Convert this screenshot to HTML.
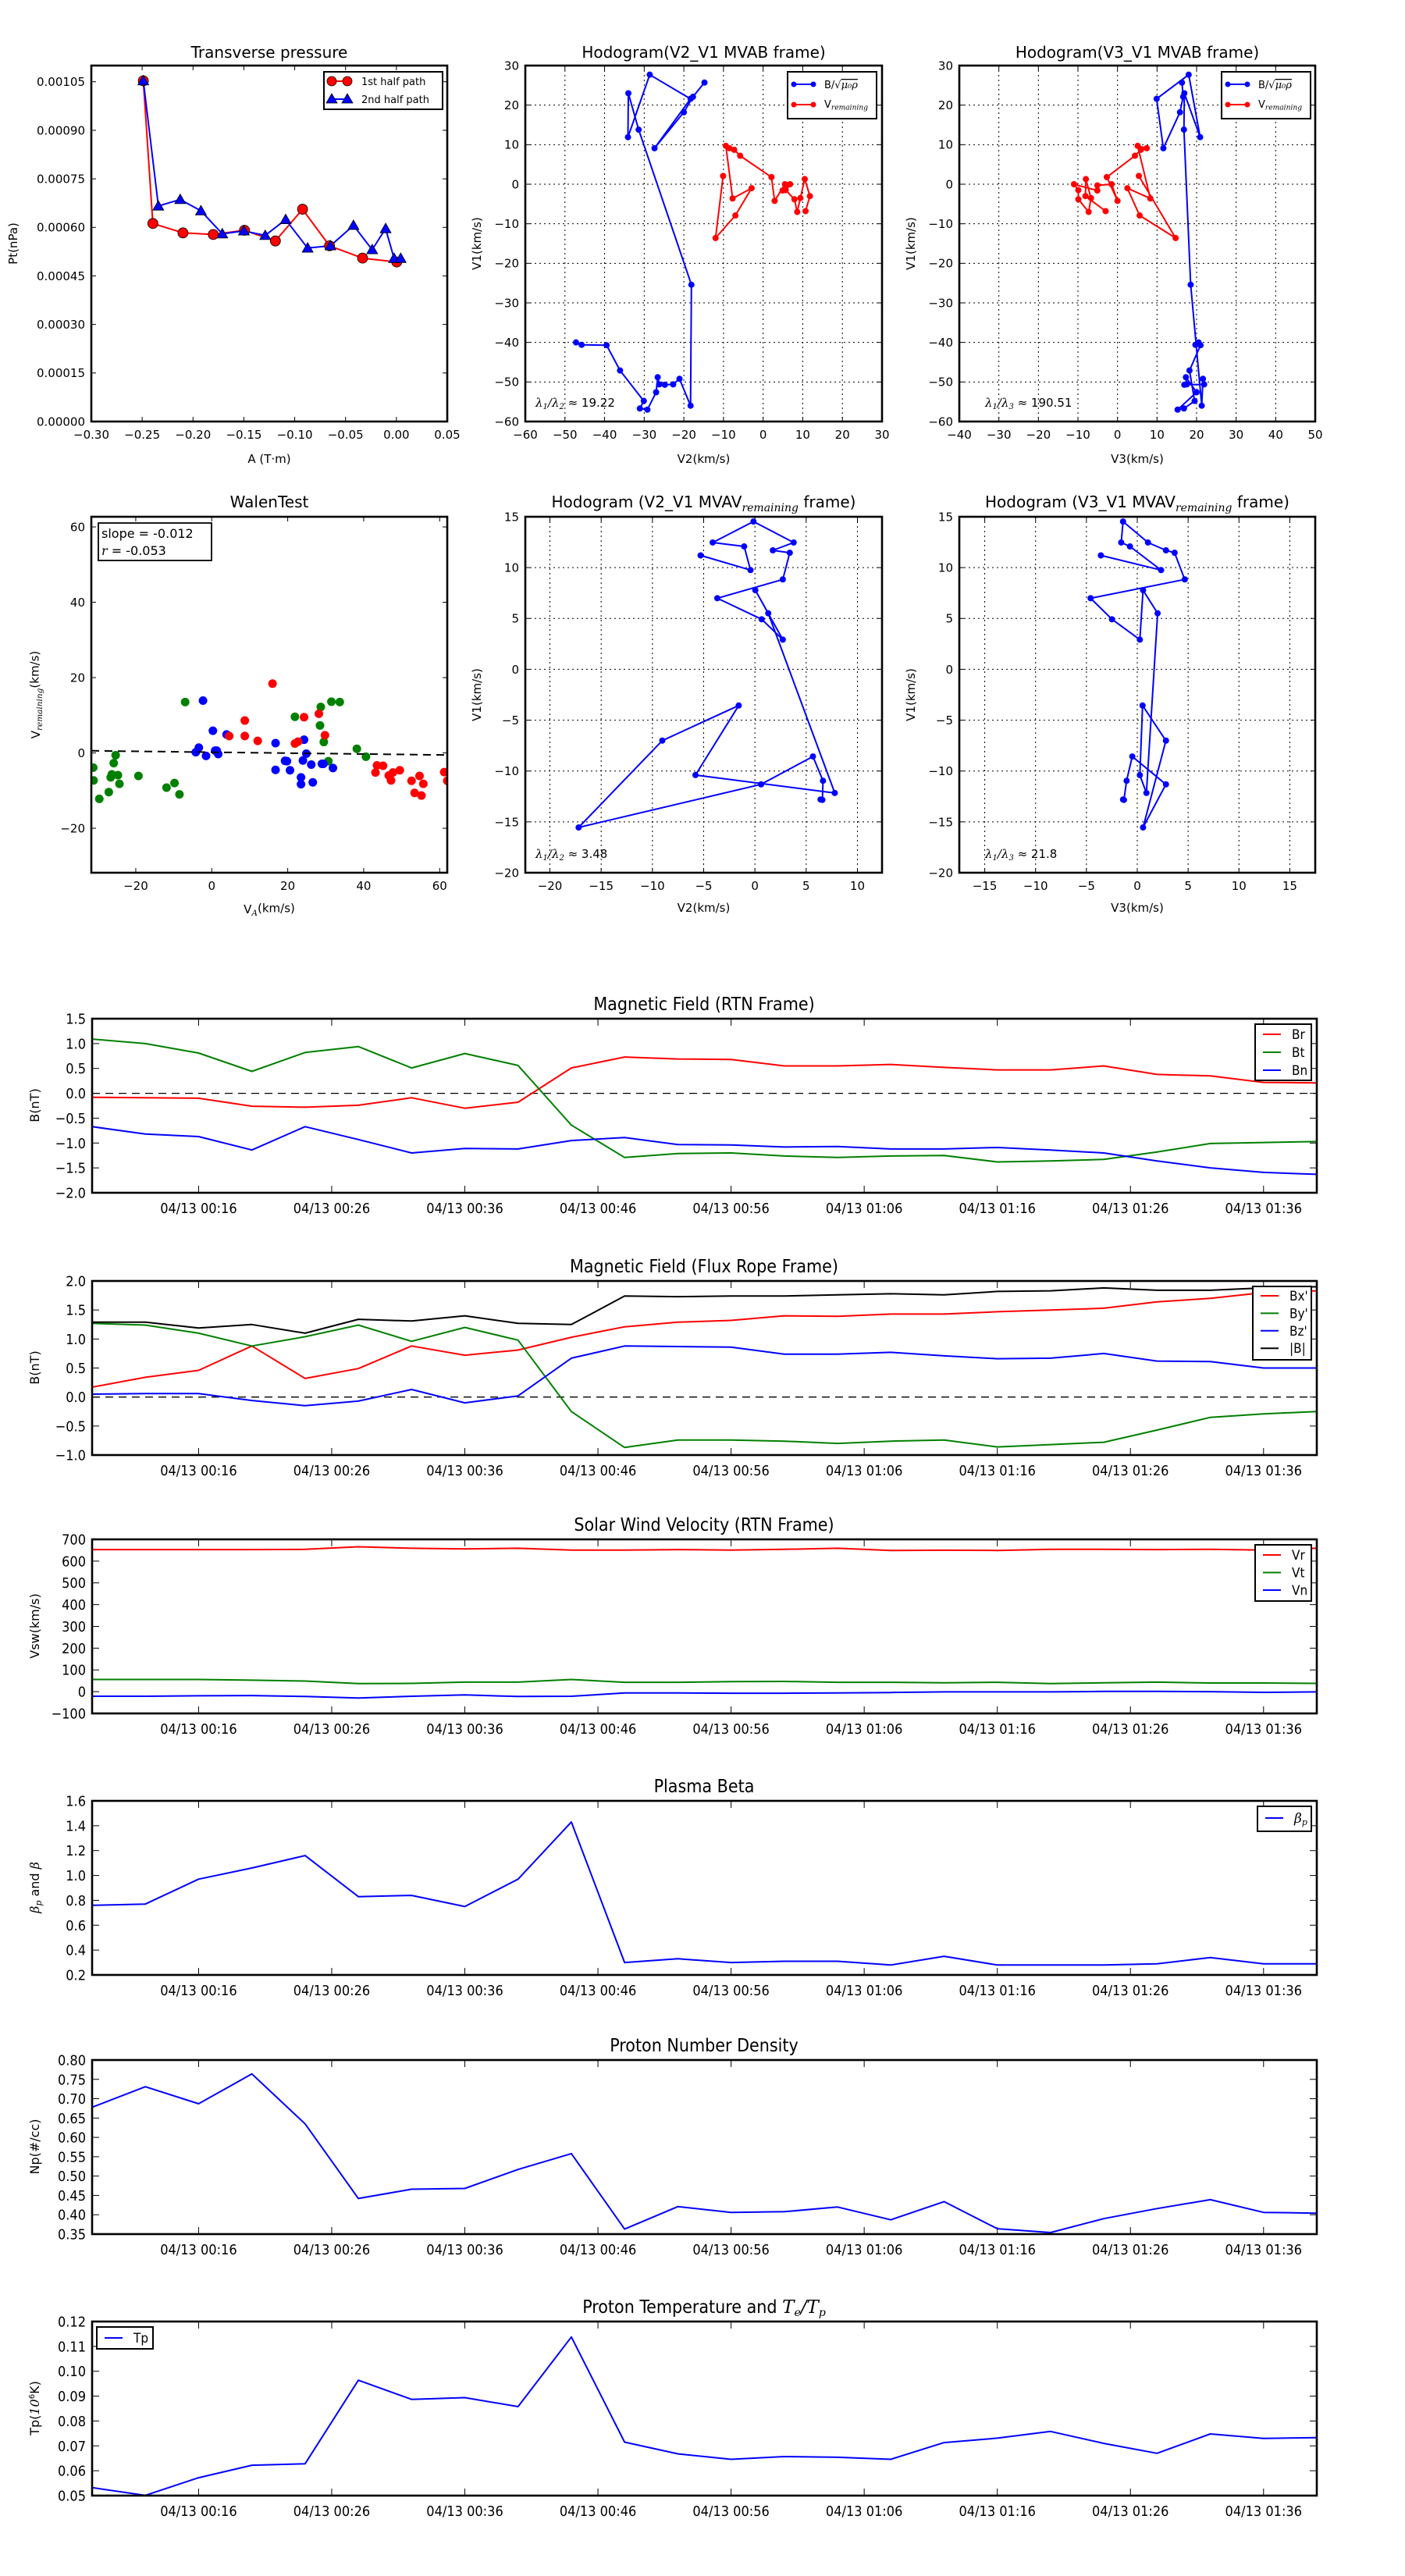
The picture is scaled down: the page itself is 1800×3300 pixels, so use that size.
<!DOCTYPE html>
<html><head><meta charset="utf-8"><title>Flux rope analysis</title>
<style>
html,body{margin:0;padding:0;background:#fff;}
svg{display:block;}
text{font-family:"DejaVu Sans","Liberation Sans",sans-serif;fill:#000;}
.cond{font-family:"DejaVu Sans Condensed","DejaVu Sans","Liberation Sans Narrow","Liberation Sans",sans-serif;}
.math{font-family:"DejaVu Serif","Liberation Serif",serif;font-style:italic;}
</style></head>
<body>
<svg id="fig" xmlns="http://www.w3.org/2000/svg" width="1800" height="3300" viewBox="0 0 1800 3300">
<rect width="1800" height="3300" fill="#fff"/>
</svg>
<script>
// ---------- Panel 1: transverse pressure ----------
const ptA1 = [-0.2489,-0.2395,-0.2099,-0.1801,-0.1494,-0.1190,-0.0923,-0.0658,-0.0333,0.0003];
const ptP1 = [0.001053,0.000612,0.000583,0.000578,0.000591,0.000558,0.000656,0.000543,0.000505,0.000493];
const ptA2 = [-0.2489,-0.2341,-0.2126,-0.1922,-0.1712,-0.1500,-0.1290,-0.1089,-0.0873,-0.0649,-0.0422,-0.0238,-0.0106,-0.0023,0.0042];
const ptP2 = [0.001053,0.000666,0.000686,0.000651,0.000580,0.000589,0.000575,0.000624,0.000536,0.000543,0.000606,0.000531,0.000596,0.000504,0.000504];
const ptXTicks = [-0.30,-0.25,-0.20,-0.15,-0.10,-0.05,0.00,0.05];
const ptXLabels = ["\u22120.30","\u22120.25","\u22120.20","\u22120.15","\u22120.10","\u22120.05","0.00","0.05"];
const ptYTicks = [0,0.00015,0.0003,0.00045,0.0006,0.00075,0.0009,0.00105];
const ptYLabels = ["0.00000","0.00015","0.00030","0.00045","0.00060","0.00075","0.00090","0.00105"];

// ---------- MVAB hodograms (V2, V3, V1) ----------
const mvabBV2 = [-14.8,-17.7,-20.0,-27.4,-18.3,-28.6,-34.1,-34.0,-31.4,-18.1,-18.3,-21.1,-22.7,-24.8,-26.2,-26.6,-27.0,-29.2,-31.1,-30.1,-36.1,-39.5,-45.8,-47.2];
const mvabBV3 = [16.3,16.6,15.8,11.6,9.9,18.0,20.9,16.9,16.8,18.5,21.3,21.6,21.9,16.9,17.5,17.3,20.0,15.2,16.8,19.5,18.2,21.0,19.7,20.5];
const mvabBV1 = [25.7,22.1,18.2,9.1,21.6,27.7,11.9,23.0,13.8,-25.4,-56.0,-49.2,-50.6,-50.7,-50.6,-48.8,-52.6,-57.0,-56.7,-54.8,-47.1,-40.7,-40.6,-40.0];
const mvabVV2 = [10.7,11.8,10.5,9.4,8.6,7.9,5.7,6.8,4.9,6.0,5.5,2.9,2.1,-5.8,-7.3,-8.5,-9.4,-7.7,-2.9,-7.0,-12.0,-10.1];
const mvabVV3 = [-3.0,-8.1,-8.0,-6.7,-7.3,-9.9,-9.9,-11.0,-5.1,-5.1,-1.5,0.0,-2.7,4.4,5.9,7.4,5.1,8.3,2.5,5.6,14.7,5.4];
const mvabVV1 = [-6.8,-3.0,1.3,-3.5,-7.0,-3.8,-1.5,0.0,-1.6,-0.3,0.0,-4.2,1.8,7.2,8.7,9.1,9.7,-3.6,-1.0,-7.9,-13.6,2.1];
const hodoTicks10 = [-60,-50,-40,-30,-20,-10,0,10,20,30,40,50];

// ---------- Walen test ----------
const walGreenX = [-31.2,-31.1,-29.6,-27.1,-26.6,-26.3,-25.8,-25.3,-24.7,-24.3,-19.3,-11.9,-9.8,-8.5,-7.0,21.9,28.5,28.7,29.5,30.7,31.5,33.7,38.2,40.6];
const walGreenY = [-3.9,-7.3,-12.2,-10.4,-6.5,-5.7,-2.7,-0.6,-5.9,-8.2,-6.1,-9.2,-8.0,-11.0,13.5,9.6,7.3,12.2,2.9,-2.2,13.6,13.5,1.1,-1.0];
const walBlueX = [-4.2,-3.4,-2.3,-1.5,0.3,0.9,1.3,1.7,3.9,16.8,16.8,19.3,19.8,20.6,23.5,23.5,24.0,24.3,24.9,26.2,26.6,29.0,29.4,31.9];
const walBlueY = [0.2,1.4,13.9,-0.8,5.9,0.6,0.6,-0.3,4.9,2.6,-4.5,-2.1,-2.2,-4.6,-6.5,-8.3,-2.0,3.5,-0.2,-3.1,-7.8,-2.9,-2.9,-4.0];
const walRedX = [4.6,8.7,8.7,12.1,16.0,21.9,22.7,24.3,28.2,29.8,43.1,43.5,45.1,46.6,47.2,47.7,49.5,52.6,53.4,54.7,55.2,55.7,61.2,62.0];
const walRedY = [4.5,8.6,4.5,3.2,18.4,2.5,3.0,9.5,10.4,4.7,-5.2,-3.3,-3.4,-6.0,-7.3,-5.2,-4.6,-7.4,-10.6,-6.1,-11.3,-8.2,-5.1,-7.4];
const walSlope = -0.012;
const walIntercept = 0.2;
const walTicks = [-20,0,20,40,60];

// ---------- MVAV hodograms ----------
const mvavV2 = [-5.30,-0.43,-1.05,-4.12,-0.14,3.78,1.75,3.40,2.72,-3.67,0.66,2.72,0.04,1.30,7.79,-5.80,-1.58,-9.04,-17.20,0.60,5.66,6.64,6.58,6.40];
const mvavV3 = [-3.58,2.34,-0.72,-1.58,-1.40,1.05,2.82,3.67,4.67,-4.59,-2.49,0.25,0.57,2.00,0.90,0.25,0.52,2.82,0.57,2.82,-0.49,-1.05,-1.31,-1.40];
const mvavV1 = [11.20,9.76,12.08,12.47,14.53,12.47,11.70,11.46,8.84,6.99,4.92,2.92,7.78,5.51,-12.16,-10.40,-3.56,-7.01,-15.55,-11.31,-8.57,-10.96,-12.84,-12.80];
const hodoTicks5 = [-20,-15,-10,-5,0,5,10,15];

// ---------- Time series ----------
const tsMinutes = [8,12,16,20,24,28,32,36,40,44,48,52,56,60,64,68,72,76,80,84,88,92,96,100];
const tsTickMin = [16,26,36,46,56,66,76,86,96];
const tsTickLabels = ["04/13 00:16","04/13 00:26","04/13 00:36","04/13 00:46","04/13 00:56","04/13 01:06","04/13 01:16","04/13 01:26","04/13 01:36"];
const brVals = [-0.08,-0.09,-0.10,-0.26,-0.28,-0.24,-0.09,-0.30,-0.18,0.51,0.73,0.69,0.68,0.55,0.55,0.58,0.52,0.47,0.47,0.55,0.38,0.35,0.22,0.21];
const btVals = [1.09,1.00,0.81,0.44,0.82,0.94,0.51,0.80,0.56,-0.64,-1.29,-1.21,-1.20,-1.26,-1.29,-1.26,-1.25,-1.38,-1.36,-1.33,-1.18,-1.01,-0.99,-0.97];
const bnVals = [-0.67,-0.82,-0.87,-1.14,-0.67,-0.93,-1.20,-1.11,-1.12,-0.95,-0.89,-1.03,-1.04,-1.08,-1.07,-1.12,-1.12,-1.09,-1.14,-1.20,-1.36,-1.50,-1.59,-1.63];
const bxVals = [0.17,0.34,0.46,0.88,0.32,0.49,0.88,0.72,0.81,1.03,1.21,1.29,1.32,1.40,1.39,1.43,1.43,1.47,1.50,1.53,1.64,1.70,1.80,1.83];
const byVals = [1.27,1.24,1.10,0.88,1.04,1.24,0.96,1.20,0.98,-0.25,-0.87,-0.74,-0.74,-0.76,-0.80,-0.76,-0.74,-0.86,-0.82,-0.78,-0.57,-0.35,-0.29,-0.25];
const bzVals = [0.05,0.06,0.06,-0.06,-0.15,-0.07,0.13,-0.10,0.02,0.67,0.88,0.87,0.86,0.74,0.74,0.77,0.71,0.66,0.67,0.75,0.62,0.61,0.50,0.50];
const bmagVals = [1.29,1.29,1.19,1.25,1.10,1.34,1.31,1.40,1.27,1.25,1.74,1.73,1.74,1.74,1.76,1.78,1.76,1.82,1.83,1.88,1.84,1.84,1.88,1.90];
const vrVals = [653,653,653,653,654,666,659,656,659,651,651,653,651,654,659,649,650,649,654,654,653,654,651,659];
const vtVals = [56,56,56,53,49,37,38,44,44,56,43,43,46,47,43,43,41,43,37,41,44,40,40,38];
const vnVals = [-21,-21,-19,-18,-22,-29,-21,-15,-22,-21,-6,-6,-7,-7,-6,-4,-1,-1,-1,1,1,0,-3,-1];
const betaVals = [0.76,0.77,0.97,1.06,1.16,0.83,0.84,0.75,0.97,1.43,0.30,0.33,0.30,0.31,0.31,0.28,0.35,0.28,0.28,0.28,0.29,0.34,0.29,0.29];
const npVals = [0.678,0.731,0.687,0.764,0.635,0.442,0.466,0.468,0.517,0.558,0.363,0.421,0.406,0.408,0.420,0.387,0.434,0.364,0.354,0.390,0.416,0.439,0.406,0.404];
const tpVals = [0.0532,0.0501,0.0572,0.0622,0.0628,0.0964,0.0887,0.0894,0.0858,0.1138,0.0715,0.0668,0.0646,0.0657,0.0654,0.0646,0.0713,0.0731,0.0758,0.0710,0.0670,0.0748,0.0730,0.0733];
const rtnYTicks = [-2.0,-1.5,-1.0,-0.5,0.0,0.5,1.0,1.5];
const fluxYTicks = [-1.0,-0.5,0.0,0.5,1.0,1.5,2.0];
const velYTicks = [-100,0,100,200,300,400,500,600,700];
const betaYTicks = [0.2,0.4,0.6,0.8,1.0,1.2,1.4,1.6];
const npYTicks = [0.35,0.40,0.45,0.50,0.55,0.60,0.65,0.70,0.75,0.80];
const tpYTicks = [0.05,0.06,0.07,0.08,0.09,0.10,0.11,0.12];

const NS = 'http://www.w3.org/2000/svg';
const svg = document.getElementById('fig');
function mk(tag, parent, attrs) {
  const e = document.createElementNS(NS, tag);
  for (const k in attrs) e.setAttribute(k, attrs[k]);
  parent.appendChild(e);
  return e;
}
function lin(d0, d1, r0, r1) { return v => r0 + (v - d0) / (d1 - d0) * (r1 - r0); }
function txt(parent, x, y, s, size, anchor, cls) {
  const t = mk('text', parent, {x: x, y: y, 'font-size': size, 'text-anchor': anchor || 'start'});
  if (cls) t.setAttribute('class', cls);
  t.textContent = s;
  return t;
}
function fmtMinus(v, d) { const s = Math.abs(v).toFixed(d); return (v < 0 ? '\u2212' : '') + s; }

function axes(c) {
  const g = mk('g', svg, {});
  
  
  const sx = lin(c.xmin, c.xmax, c.x0, c.x1);
  const sy = lin(c.ymin, c.ymax, c.y1, c.y0);
  const tl = c.tickLen || 7;
  const gg = mk('g', g, {});
  
  
  c.xticks.forEach((v, i) => {
    const x = sx(v);
    if (x < c.x0 - 0.5 || x > c.x1 + 0.5) return;
    if (c.grid) mk('line', gg, {x1: x, x2: x, y1: c.y0, y2: c.y1, stroke: '#000', 'stroke-width': 1, 'stroke-dasharray': '2,4'});
    mk('line', gg, {x1: x, x2: x, y1: c.y1, y2: c.y1 - tl, stroke: '#000', 'stroke-width': 1});
    mk('line', gg, {x1: x, x2: x, y1: c.y0, y2: c.y0 + tl, stroke: '#000', 'stroke-width': 1});
    const t = txt(gg, x, c.y1 + c.xlabOff, c.xlabels[i], c.tickFont, 'middle', c.tickCls);
    
    
  });
  c.yticks.forEach((v, i) => {
    const y = sy(v);
    if (y < c.y0 - 0.5 || y > c.y1 + 0.5) return;
    if (c.grid) mk('line', gg, {x1: c.x0, x2: c.x1, y1: y, y2: y, stroke: '#000', 'stroke-width': 1, 'stroke-dasharray': '2,4'});
    mk('line', gg, {x1: c.x0, x2: c.x0 + tl, y1: y, y2: y, stroke: '#000', 'stroke-width': 1});
    mk('line', gg, {x1: c.x1, x2: c.x1 - tl, y1: y, y2: y, stroke: '#000', 'stroke-width': 1});
    const t = txt(gg, c.x0 - 8, y + c.tickFont * 0.36, c.ylabels[i], c.tickFont, 'end', c.tickCls);
    
    
  });
  const data = mk('g', g, {});
  
  
  const clipId = 'clip-' + c.name;
  const cp = mk('clipPath', g, {id: clipId});
  mk('rect', cp, {x: c.x0, y: c.y0, width: c.x1 - c.x0, height: c.y1 - c.y0});
  data.setAttribute('clip-path', 'url(#' + clipId + ')');
  return {g, data, sx, sy};
}
function frame(A, c) {
  const r = mk('rect', A.g, {x: c.x0, y: c.y0, width: c.x1 - c.x0, height: c.y1 - c.y0, fill: 'none', stroke: '#000', 'stroke-width': 2.6});
  
  
}
function poly(parent, xs, ys, sx, sy, color, w, dash) {
  const pts = xs.map((x, i) => sx(x).toFixed(1) + ',' + sy(ys[i]).toFixed(1)).join(' ');
  const p = mk('polyline', parent, {points: pts, fill: 'none', stroke: color, 'stroke-width': w || 2, 'stroke-linejoin': 'round'});
  if (dash) p.setAttribute('stroke-dasharray', dash);
  return p;
}
function dots(parent, xs, ys, sx, sy, color, r, stroke) {
  xs.forEach((x, i) => {
    const d = mk('circle', parent, {cx: sx(x), cy: sy(ys[i]), r: r, fill: color});
    if (stroke) { d.setAttribute('stroke', '#000'); d.setAttribute('stroke-width', 0.8); }
    
    
  });
}
function tris(parent, xs, ys, sx, sy, color, s) {
  xs.forEach((x, i) => {
    const cx = sx(x), cy = sy(ys[i]);
    const t = mk('polygon', parent, {points: `${cx},${cy - s} ${cx - s},${cy + s * 0.75} ${cx + s},${cy + s * 0.75}`, fill: color, stroke: '#000', 'stroke-width': 0.8});
    
    
  });
}
function title(x, y, s, size, cls) {
  const t = txt(svg, x, y, s, size, 'middle', cls);
  
  
  return t;
}
function ylab(x, y, s, size) {
  const t = txt(svg, x, y, s, size, 'middle');
  t.setAttribute('transform', `rotate(-90 ${x} ${y})`);
  
  
  return t;
}
function xlab(x, y, s, size) {
  const t = txt(svg, x, y, s, size, 'middle');
  
  
  return t;
}
function addSub(t, main, sub) {
  t.textContent = '';
  const a = mk('tspan', t, {}); a.textContent = main;
  const b = mk('tspan', t, {class: 'math', 'font-size': '0.7em', dy: '0.3em'}); b.textContent = sub;
  return t;
}

// ================= Panel 1 =================
(function () {
  const c = {name: 'transverse-pressure', x0: 117, x1: 573, y0: 84, y1: 540, xmin: -0.30, xmax: 0.05, ymin: 0, ymax: 0.0011,
    xticks: ptXTicks, xlabels: ptXLabels, yticks: ptYTicks, ylabels: ptYLabels, tickFont: 15, xlabOff: 22, tickLen: 6};
  const A = axes(c);
  const l1 = poly(A.data, ptA1, ptP1, A.sx, A.sy, '#ff0000', 2);
  
  
  const l2 = poly(A.data, ptA2, ptP2, A.sx, A.sy, '#0000ff', 2);
  
  
  dots(A.data, ptA1, ptP1, A.sx, A.sy, '#ff0000', 6.5, true);
  tris(A.data, ptA2, ptP2, A.sx, A.sy, '#0000ff', 7);
  frame(A, c);
  const lg = mk('g', svg, {});
  
  
  mk('rect', lg, {x: 415, y: 92, width: 152, height: 48, fill: '#fff', stroke: '#000', 'stroke-width': 2});
  mk('line', lg, {x1: 425, x2: 445, y1: 104, y2: 104, stroke: '#ff0000', 'stroke-width': 2});
  mk('circle', lg, {cx: 425, cy: 104, r: 6, fill: '#ff0000', stroke: '#000', 'stroke-width': 0.8});
  mk('circle', lg, {cx: 445, cy: 104, r: 6, fill: '#ff0000', stroke: '#000', 'stroke-width': 0.8});
  const e1 = txt(lg, 463, 109, '1st half path', 13);
  
  
  mk('line', lg, {x1: 425, x2: 445, y1: 127, y2: 127, stroke: '#0000ff', 'stroke-width': 2});
  mk('polygon', lg, {points: '425,120 418,132 432,132', fill: '#0000ff', stroke: '#000', 'stroke-width': 0.8});
  mk('polygon', lg, {points: '445,120 438,132 452,132', fill: '#0000ff', stroke: '#000', 'stroke-width': 0.8});
  const e2 = txt(lg, 463, 132, '2nd half path', 13);
  
  
  title(345, 74, 'Transverse pressure', 20);
  xlab(345, 593, 'A (T\u00b7m)', 15);
  ylab(22, 312, 'Pt(nPa)', 15);
})();

function hodoLegend(x0, y0) {
  const lg = mk('g', svg, {});
  
  
  mk('rect', lg, {x: x0, y: y0, width: 114, height: 60, fill: '#fff', stroke: '#000', 'stroke-width': 2});
  mk('line', lg, {x1: x0 + 8, x2: x0 + 33, y1: y0 + 16, y2: y0 + 16, stroke: '#0000ff', 'stroke-width': 2});
  mk('circle', lg, {cx: x0 + 8, cy: y0 + 16, r: 3.5, fill: '#0000ff'});
  mk('circle', lg, {cx: x0 + 33, cy: y0 + 16, r: 3.5, fill: '#0000ff'});
  const t1 = mk('text', lg, {x: x0 + 47, y: y0 + 21, 'font-size': 13});
  
  
  const a = mk('tspan', t1, {}); a.textContent = 'B/\u221a';
  const b = mk('tspan', t1, {class: 'math', 'text-decoration': 'overline'}); b.textContent = '\u03bc\u2080\u03c1';
  mk('line', lg, {x1: x0 + 8, x2: x0 + 33, y1: y0 + 42, y2: y0 + 42, stroke: '#ff0000', 'stroke-width': 2});
  mk('circle', lg, {cx: x0 + 8, cy: y0 + 42, r: 3.5, fill: '#ff0000'});
  mk('circle', lg, {cx: x0 + 33, cy: y0 + 42, r: 3.5, fill: '#ff0000'});
  const t2 = txt(lg, x0 + 47, y0 + 46, '', 13);
  addSub(t2, 'V', 'remaining');
  
  
}
function lambdaText(x, y, num, den, val) {
  const t = mk('text', svg, {x: x, y: y, 'font-size': 15});
  
  
  const a = mk('tspan', t, {class: 'math'}); a.textContent = '\u03bb';
  const b = mk('tspan', t, {class: 'math', 'font-size': 10, dy: 3}); b.textContent = num;
  const c = mk('tspan', t, {class: 'math', dy: -3}); c.textContent = '/\u03bb';
  const d = mk('tspan', t, {class: 'math', 'font-size': 10, dy: 3}); d.textContent = den;
  const e = mk('tspan', t, {dy: -3}); e.textContent = ' \u2248 ' + val;
}

// ================= MVAB hodograms =================
function mvabPanel(name, x0, x1, xmin, xmax, bx, vx, xname, legX, lamX, den, val, ttl) {
  const c = {name: name, x0: x0, x1: x1, y0: 84, y1: 540, xmin: xmin, xmax: xmax, ymin: -60, ymax: 30,
    xticks: hodoTicks10, xlabels: hodoTicks10.map(v => fmtMinus(v, 0)), yticks: hodoTicks10, ylabels: hodoTicks10.map(v => fmtMinus(v, 0)),
    tickFont: 15, xlabOff: 22, grid: true, tickLen: 6};
  const A = axes(c);
  const lb = poly(A.data, bx, mvabBV1, A.sx, A.sy, '#0000ff', 2);
  
  
  dots(A.data, bx, mvabBV1, A.sx, A.sy, '#0000ff', 4);
  const lr = poly(A.data, vx, mvabVV1, A.sx, A.sy, '#ff0000', 2);
  
  
  dots(A.data, vx, mvabVV1, A.sx, A.sy, '#ff0000', 4);
  frame(A, c);
  hodoLegend(legX, 92);
  lambdaText(lamX, 521, '1', den, val);
  title((x0 + x1) / 2, 74, ttl, 20);
  xlab((x0 + x1) / 2, 593, xname, 15);
  ylab(x0 - 57, 312, 'V1(km/s)', 15);
}
mvabPanel('hodogram-v2-v1-mvab', 673, 1130, -60, 30, mvabBV2, mvabVV2, 'V2(km/s)', 1009, 686, '2', '19.22', 'Hodogram(V2_V1 MVAB frame)');
mvabPanel('hodogram-v3-v1-mvab', 1229, 1685, -40, 50, mvabBV3, mvabVV3, 'V3(km/s)', 1565, 1262, '3', '190.51', 'Hodogram(V3_V1 MVAB frame)');

// ================= Walen test =================
(function () {
  const c = {name: 'walen-test', x0: 117, x1: 573, y0: 662, y1: 1118, xmin: -31.7, xmax: 62.0, ymin: -31.8, ymax: 62.7,
    xticks: walTicks, xlabels: walTicks.map(v => fmtMinus(v, 0)), yticks: walTicks, ylabels: walTicks.map(v => fmtMinus(v, 0)),
    tickFont: 15, xlabOff: 22, tickLen: 6};
  const A = axes(c);
  dots(A.data, walGreenX, walGreenY, A.sx, A.sy, '#008000', 5.5);
  dots(A.data, walBlueX, walBlueY, A.sx, A.sy, '#0000ff', 5.5);
  dots(A.data, walRedX, walRedY, A.sx, A.sy, '#ff0000', 5.5);
  const fx = [c.xmin, c.xmax];
  const fy = fx.map(v => walSlope * v + walIntercept);
  const fl = poly(A.data, fx, fy, A.sx, A.sy, '#000', 2, '10,7');
  
  
  frame(A, c);
  const bx = mk('g', svg, {});
  
  
  mk('rect', bx, {x: 126, y: 670, width: 145, height: 48, fill: '#fff', stroke: '#000', 'stroke-width': 1.8});
  txt(bx, 130, 689, 'slope = -0.012', 16);
  const r = mk('text', bx, {x: 130, y: 711, 'font-size': 16});
  const r1 = mk('tspan', r, {class: 'math'}); r1.textContent = 'r';
  const r2 = mk('tspan', r, {}); r2.textContent = ' = -0.053';
  title(345, 650, 'WalenTest', 20);
  const xl = xlab(345, 1170, '', 15);
  addSub(xl, 'V', 'A');
  const xt = mk('tspan', xl, {dy: '-0.3em'}); xt.textContent = '(km/s)';
  const yl = ylab(51, 890, '', 15);
  addSub(yl, 'V', 'remaining');
  const yt = mk('tspan', yl, {dy: '-0.3em'}); yt.textContent = '(km/s)';
})();

// ================= MVAV hodograms =================
function mvavPanel(name, x0, x1, xmin, xmax, xs, xname, lamX, den, val, ttlMain) {
  const c = {name: name, x0: x0, x1: x1, y0: 662, y1: 1118, xmin: xmin, xmax: xmax, ymin: -20, ymax: 15,
    xticks: hodoTicks5, xlabels: hodoTicks5.map(v => fmtMinus(v, 0)), yticks: hodoTicks5, ylabels: hodoTicks5.map(v => fmtMinus(v, 0)),
    tickFont: 15, xlabOff: 22, grid: true, tickLen: 6};
  const A = axes(c);
  const l = poly(A.data, xs, mvavV1, A.sx, A.sy, '#0000ff', 2);
  
  
  dots(A.data, xs, mvavV1, A.sx, A.sy, '#0000ff', 4);
  frame(A, c);
  lambdaText(lamX, 1099, '1', den, val);
  const t = title((x0 + x1) / 2, 650, '', 20);
  const a = mk('tspan', t, {}); a.textContent = ttlMain;
  const b = mk('tspan', t, {class: 'math', 'font-size': 14, dy: 5}); b.textContent = 'remaining';
  const d = mk('tspan', t, {dy: -5}); d.textContent = ' frame)';
  xlab((x0 + x1) / 2, 1168, xname, 15);
  ylab(x0 - 57, 890, 'V1(km/s)', 15);
}
mvavPanel('hodogram-v2-v1-mvav', 673, 1130, -22.4, 12.4, mvavV2, 'V2(km/s)', 686, '2', '3.48', 'Hodogram (V2_V1 MVAV');
mvavPanel('hodogram-v3-v1-mvav', 1229, 1685, -17.5, 17.5, mvavV3, 'V3(km/s)', 1262, '3', '21.8', 'Hodogram (V3_V1 MVAV');

// ================= Time series =================
function tsPanel(o) {
  const c = {name: o.name, x0: 118, x1: 1687, y0: o.top, y1: o.top + 223, xmin: 8, xmax: 100, ymin: o.yticks[0], ymax: o.yticks[o.yticks.length - 1],
    xticks: tsTickMin, xlabels: tsTickLabels, yticks: o.yticks, ylabels: o.yticks.map(v => fmtMinus(v, o.dec)),
    tickFont: 18, tickCls: 'cond', xlabOff: 26, tickLen: 9};
  const A = axes(c);
  if (o.zero) {
    const z = poly(A.data, [8, 100], [0, 0], A.sx, A.sy, '#000', 1.3, '10,7');
    
    
  }
  o.series.forEach(s => {
    const p = poly(A.data, tsMinutes, s.vals, A.sx, A.sy, s.color, 2);
    
    
  });
  frame(A, c);
  if (o.legend) {
    const L = o.legend;
    const lg = mk('g', svg, {});
    
    
    mk('rect', lg, {x: L.x, y: L.y, width: L.w, height: L.h, fill: '#fff', stroke: '#000', 'stroke-width': 2});
    o.series.forEach((s, i) => {
      const y = L.y + L.first + i * L.step;
      mk('line', lg, {x1: L.x + 10, x2: L.x + 33, y1: y, y2: y, stroke: s.color, 'stroke-width': 2});
      const t = txt(lg, L.x + 47, y + 6, s.label, 17, 'start', 'cond');
      if (s.math) { t.setAttribute('class', 'math'); t.textContent = ''; const a = mk('tspan', t, {}); a.textContent = '\u03b2'; const b = mk('tspan', t, {'font-size': 11, dy: 3}); b.textContent = 'p'; }
      
      
    });
  }
  const tt = title(902, o.top - 11, o.title, 23, 'cond');
  if (o.titleExtra) o.titleExtra(tt);
  const yl = ylab(50, o.top + 111, o.ylabel, 16);
  if (o.ylabExtra) o.ylabExtra(yl);
}

tsPanel({name: 'magnetic-field-rtn', top: 1305, yticks: rtnYTicks, dec: 1, zero: true, title: 'Magnetic Field (RTN Frame)', ylabel: 'B(nT)',
  series: [{id: 'br', vals: brVals, color: '#ff0000', label: 'Br'}, {id: 'bt', vals: btVals, color: '#008000', label: 'Bt'}, {id: 'bn', vals: bnVals, color: '#0000ff', label: 'Bn'}],
  legend: {x: 1608, y: 1312, w: 72, h: 72, first: 13, step: 23}});
tsPanel({name: 'magnetic-field-flux-rope', top: 1641, yticks: fluxYTicks, dec: 1, zero: true, title: 'Magnetic Field (Flux Rope Frame)', ylabel: 'B(nT)',
  series: [{id: 'bx', vals: bxVals, color: '#ff0000', label: "Bx'"}, {id: 'by', vals: byVals, color: '#008000', label: "By'"}, {id: 'bz', vals: bzVals, color: '#0000ff', label: "Bz'"}, {id: 'bmag', vals: bmagVals, color: '#000000', label: '|B|'}],
  legend: {x: 1605, y: 1648, w: 75, h: 94, first: 12, step: 22.4}});
tsPanel({name: 'solar-wind-velocity', top: 1972, yticks: velYTicks, dec: 0, title: 'Solar Wind Velocity (RTN Frame)', ylabel: 'Vsw(km/s)',
  series: [{id: 'vr', vals: vrVals, color: '#ff0000', label: 'Vr'}, {id: 'vt', vals: vtVals, color: '#008000', label: 'Vt'}, {id: 'vn', vals: vnVals, color: '#0000ff', label: 'Vn'}],
  legend: {x: 1608, y: 1979, w: 72, h: 72, first: 13, step: 22.5}});
tsPanel({name: 'plasma-beta', top: 2307, yticks: betaYTicks, dec: 1, title: 'Plasma Beta', ylabel: '',
  series: [{id: 'beta-p', vals: betaVals, color: '#0000ff', label: '', math: true}],
  legend: {x: 1611, y: 2314, w: 69, h: 32, first: 15, step: 22},
  ylabExtra: function (t) { const a = mk('tspan', t, {class: 'math'}); a.textContent = '\u03b2'; const b = mk('tspan', t, {class: 'math', 'font-size': 11, dy: 3}); b.textContent = 'p'; const c = mk('tspan', t, {dy: -3}); c.textContent = ' and '; const d = mk('tspan', t, {class: 'math'}); d.textContent = '\u03b2'; }});
tsPanel({name: 'proton-number-density', top: 2639, yticks: npYTicks, dec: 2, title: 'Proton Number Density', ylabel: 'Np(#/cc)',
  series: [{id: 'np', vals: npVals, color: '#0000ff', label: 'Np'}]});
tsPanel({name: 'proton-temperature', top: 2974, yticks: tpYTicks, dec: 2, title: 'Proton Temperature and ', ylabel: '',
  series: [{id: 'tp', vals: tpVals, color: '#0000ff', label: 'Tp'}],
  legend: {x: 124, y: 2981, w: 72, h: 28, first: 14, step: 22},
  titleExtra: function (t) { const a = mk('tspan', t, {class: 'math'}); a.textContent = 'T'; const b = mk('tspan', t, {class: 'math', 'font-size': 14, dy: 4}); b.textContent = 'e'; const c = mk('tspan', t, {class: 'math', dy: -4}); c.textContent = '/T'; const d = mk('tspan', t, {class: 'math', 'font-size': 14, dy: 4}); d.textContent = 'p'; },
  ylabExtra: function (t) { const a = mk('tspan', t, {}); a.textContent = 'Tp('; const b = mk('tspan', t, {class: 'math', 'font-style': 'normal'}); b.textContent = '10'; const c = mk('tspan', t, {'font-size': 10, dy: -6}); c.textContent = '6'; const d = mk('tspan', t, {dy: 6}); d.textContent = 'K)'; }});
</script>
</body></html>
